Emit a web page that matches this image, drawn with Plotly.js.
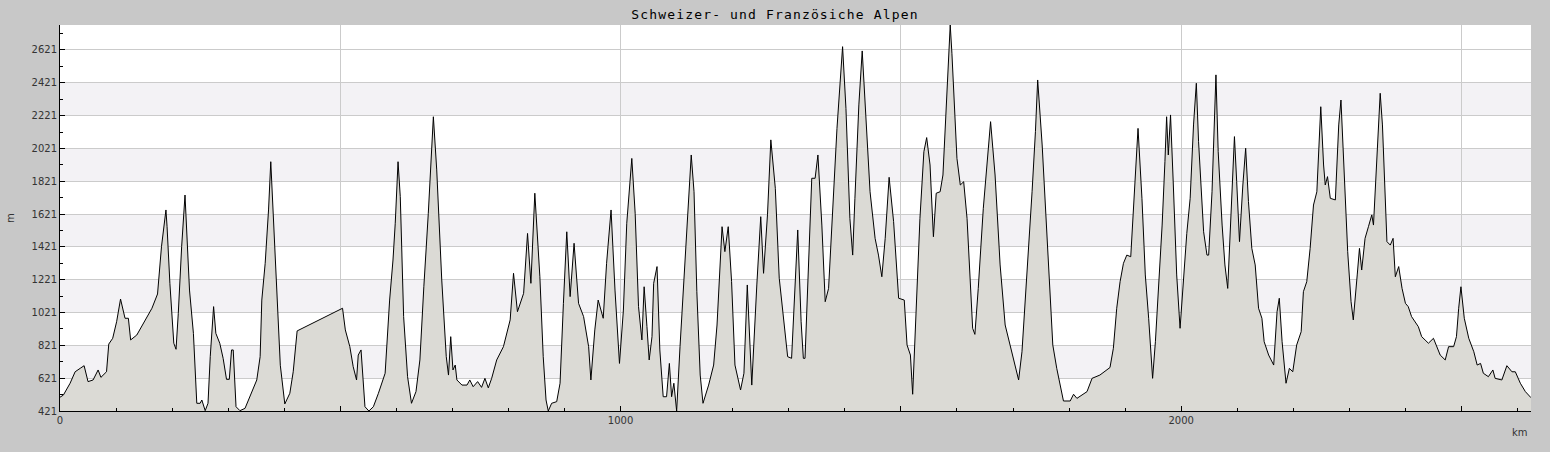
<!DOCTYPE html>
<html>
<head>
<meta charset="utf-8">
<script src="https://cdn.plot.ly/plotly-3.0.1.min.js"></script>
<style>
html,body{margin:0;padding:0;background:#c8c8c8;}
#chart{width:1550px;height:452px;}
.gtitle{letter-spacing:1.15px;}
</style>
</head>
<body>
<div id="chart"></div>
<script>
// Distance along route (km)
const distanceKm = [
0,6,18,27,36,43,50,59,68,73,83,87,94,101,108,116,122,126,137,152,164,174,181,189,191,196,203,207,211,217,223,231,238,244,250,253,259,264,268,274,278,285,291,297,302,306,309,314,321,330,339,351,357,360,366,372,376,381,387,393,
401,410,416,423,504,509,517,523,529,532,537,540,544,551,559,568,580,588,594,598,603,607,613,620,627,635,642,649,657,666,672,681,689,693,697,701,705,708,717,726,731,737,745,752,758,764,770,779,791,
803,809,816,827,834,840,847,856,862,867,871,877,886,892,898,904,910,917,925,934,943,947,954,960,969,975,983,990,998,1005,1011,1020,1026,1032,1038,1042,1047,1051,1056,1059,1065,1070,1076,1082,1087,1091,1095,1100,1106,1115,1121,1126,1131,1136,1142,
1147,1157,1166,1172,1181,1186,1192,1198,1204,1214,1220,1226,1234,1243,1250,1255,1262,1268,1276,1283,1290,1298,1305,1311,1316,1322,1326,1329,1333,1341,1347,1352,1359,1365,1371,1379,1386,1396,1402,1409,1414,1418,1425,1431,1436,1445,1454,1460,1466,1472,1479,1487,1496,
1506,1511,1517,1521,1525,1534,1541,1546,1552,1558,1563,1570,1575,1582,1588,1591,1600,1606,1612,1618,1624,1628,1632,1638,1647,1656,1660,1668,1677,1686,1695,1704,1710,1716,1725,1734,1740,1744,1752,1760,1771,1778,1787,1790,1802,1808,1814,1832,1841,1855,1873,
1879,1885,1891,1897,1903,1910,1915,1920,1923,1930,1936,1942,1949,1954,1960,1966,1971,1974,1977,1981,1986,1992,1998,2004,2010,2016,2022,2027,2031,2040,2046,2049,2055,2062,2066,2073,2078,2083,2087,2095,2099,2104,2110,2115,2120,2126,2132,2138,2144,2148,2156,2165,2171,2175,2180,2184,2187,2193,2199,2206,2214,2218,2224,2230,2236,2242,2249,2254,2257,2261,2266,
2275,2281,2285,2290,2297,2303,2307,2314,2318,2322,2328,2334,2340,2343,2348,2355,2359,2364,2367,2373,2378,2382,2388,2394,2400,2405,2411,2423,2429,2435,2441,2450,2456,2462,2471,2477,2486,2491,2495,2499,2505,2513,2522,2528,2534,2539,2548,2556,2560,2572,2581,2590,2596,2605,2614,2624
];
// Elevation (m)
const elevationM = [
505,518,590,660,681,697,600,610,671,626,660,829,864,965,1103,986,986,854,884,976,1047,1134,1422,1646,1544,1199,834,797,1016,1422,1737,1158,894,468,468,488,423,468,752,1057,894,834,742,614,614,793,793,447,423,437,508,610,752,1097,1321,1646,1940,1600,1150,700,
464,529,660,909,1047,915,813,691,610,762,793,610,447,421,447,529,651,1097,1341,1565,1940,1727,996,630,468,539,732,1178,1626,2214,1890,1219,752,640,874,671,701,610,579,579,610,569,600,565,620,562,620,732,813,
976,1260,1026,1138,1503,1199,1748,1239,752,488,421,468,478,590,1077,1513,1118,1443,1077,996,813,610,915,1097,986,1321,1646,1158,711,1036,1565,1960,1626,1057,854,1178,935,732,874,1199,1301,793,508,508,711,508,590,421,813,1321,1707,1981,1757,1148,640,
468,579,701,945,1544,1392,1544,1209,701,549,651,1189,579,1189,1605,1260,1616,2073,1778,1230,986,752,742,1148,1524,965,742,742,1108,1839,1839,1981,1554,1087,1168,1656,2143,2641,2265,1595,1371,1717,2286,2615,2306,1757,1473,1371,1239,1473,1845,1575,1108,
1097,823,762,523,884,1595,2001,2087,1920,1483,1748,1757,1859,2367,2773,2601,1960,1798,1818,1595,1230,925,888,1168,1656,2062,2184,1859,1311,945,813,681,610,782,1250,1757,2123,2438,2042,1513,823,681,518,482,482,523,498,539,620,640,686,
803,1047,1209,1321,1371,1361,1636,1960,2143,1717,1250,986,620,843,1189,1554,1940,2214,1981,2225,1798,1250,925,1230,1503,1717,2164,2418,2062,1513,1371,1371,1757,2469,2001,1554,1311,1168,1513,2093,1818,1453,1798,2022,1697,1412,1311,1047,986,843,762,701,1026,1108,843,701,590,681,660,823,904,1148,1209,1412,1676,1757,2275,1920,1798,1849,1717,
1707,2164,2316,1960,1392,1087,976,1250,1412,1280,1473,1544,1616,1554,1859,2357,2164,1757,1453,1432,1473,1239,1301,1168,1077,1057,996,935,874,854,834,864,813,762,732,813,813,874,1047,1178,986,864,782,701,711,651,630,671,620,610,697,660,660,590,539,502
];
// Axis ticks
const yTicks = [421,621,821,1021,1221,1421,1621,1821,2021,2221,2421,2621];
const xTicks = [0,500,1000,1500,2000,2500];
const xTickLabels = ['0','','1000','','2000',''];
const chartTitle = 'Schweizer- und Französiche Alpen';
const xUnit = 'km';
const yUnit = 'm';
const yMax = 2773;
const xMax = 2624;

const yMinor = [];
for (let i = 0; i < yTicks.length; i++) yMinor.push(yTicks[i] + 100);
const xMinor = [];
for (let v = 100; v <= xMax; v += 100) if (v % 500 !== 0) xMinor.push(v);

const bands = [];
for (let i = 1; i < yTicks.length - 1; i += 2) {
  bands.push({type:'rect', xref:'paper', yref:'y', x0:0, x1:1, y0:yTicks[i], y1:yTicks[i+1],
    fillcolor:'#f3f2f5', line:{width:0}, layer:'below'});
}

const trace = {
  x: distanceKm, y: elevationM, type:'scatter', mode:'lines',
  line:{color:'#000000', width:1}, fill:'tozeroy', fillcolor:'#dbdad5',
  hoverinfo:'skip'
};

const layout = {
  width:1550, height:452,
  margin:{l:60, r:19, t:25, b:41},
  paper_bgcolor:'#c8c8c8', plot_bgcolor:'#ffffff',
  showlegend:false,
  font:{family:'DejaVu Sans', size:10, color:'#333333'},
  title:{text:chartTitle, xref:'container', x:0.5, xanchor:'center', yref:'container', y:1-14/452, yanchor:'middle',
    font:{family:'DejaVu Sans Mono', size:13, color:'#000000'}},
  xaxis:{range:[0,xMax], tickmode:'array', tickvals:xTicks, ticktext:xTickLabels,
    ticks:'inside', ticklen:5, tickcolor:'#000', tickwidth:1,
    showgrid:true, gridcolor:'#cbcbcb', gridwidth:1, zeroline:false,
    showline:true, linecolor:'#000', linewidth:1,
    minor:{tickvals:xMinor, ticks:'inside', ticklen:3, tickcolor:'#000', showgrid:false},
    tickfont:{family:'DejaVu Sans', size:10, color:'#333'}, fixedrange:true},
  yaxis:{range:[421,yMax], tickmode:'array', tickvals:yTicks, ticktext:yTicks.map(String),
    ticks:'inside', ticklen:5, tickcolor:'#000', tickwidth:1,
    showgrid:true, gridcolor:'#cbcbcb', gridwidth:1, zeroline:false,
    showline:true, linecolor:'#000', linewidth:1,
    minor:{tickvals:yMinor, ticks:'inside', ticklen:3, tickcolor:'#000', showgrid:false},
    tickfont:{family:'DejaVu Sans', size:10, color:'#333'}, fixedrange:true},
  shapes:bands,
  annotations:[
    {text:xUnit, xref:'paper', yref:'paper', x:1, y:0, xanchor:'right', yanchor:'top', yshift:-14, xshift:-1, showarrow:false,
      font:{family:'DejaVu Sans', size:10, color:'#333'}},
    {text:yUnit, xref:'paper', yref:'paper', x:0, y:0.5, xanchor:'center', yanchor:'middle', xshift:-50, showarrow:false, textangle:-90,
      font:{family:'DejaVu Sans', size:10, color:'#333'}}
  ]
};

Plotly.newPlot('chart', [trace], layout, {staticPlot:true, displayModeBar:false});
</script>
</body>
</html>
